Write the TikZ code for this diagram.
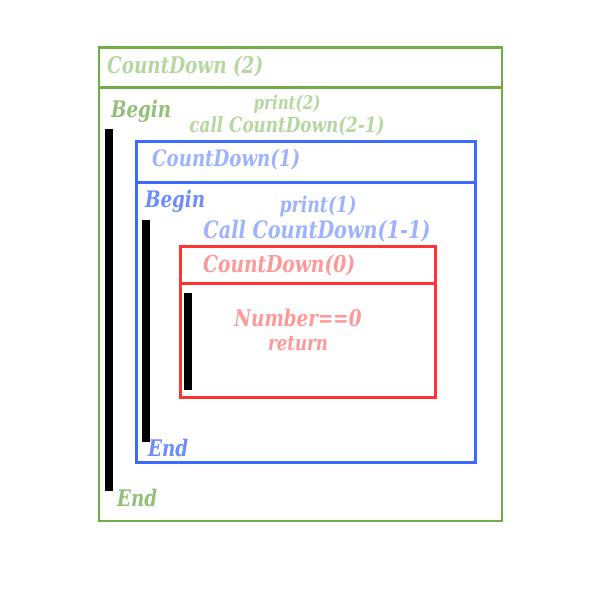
\documentclass[tikz,border=0pt]{standalone}
\usepackage{graphicx}
\usepackage{fontspec}
\setmainfont{DejaVu Serif}
\definecolor{gborder}{HTML}{70AD47}
\definecolor{gtext}{HTML}{B5D7A0}
\definecolor{gdark}{HTML}{92C07A}
\definecolor{bborder}{HTML}{3D6BFF}
\definecolor{btext}{HTML}{9DB3FF}
\definecolor{bdark}{HTML}{6D8DFF}
\definecolor{rborder}{HTML}{FF3333}
\definecolor{rtext}{HTML}{FF9999}
\newcommand{\fitw}[2]{\scalebox{1}[1.25]{\resizebox{#1pt}{!}{\bfseries\itshape #2}}}
\begin{document}
\begin{tikzpicture}[x=1pt,y=-1pt,
  lbl/.style={inner sep=0pt},
  bar/.style={fill=black, draw=none}]
\useasboundingbox (0,0) rectangle (600,600);
\fill[white] (0,0) rectangle (600,600);
% outer green frame
\draw[black, line width=1pt] (98.5,46.5) rectangle (501.5,520.5);
\draw[gborder, line width=2.5pt] (99,47.5) -- (502,47.5) -- (502,521) -- (99,521) -- cycle;
\draw[gborder, line width=2.5pt] (99,87.5) -- (502,87.5);
\node[lbl, text=gtext, anchor=west] (h2) at (107,67) {\fitw{156}{CountDown (2)}};
\node[lbl, text=gdark, anchor=west] (b2) at (111,111) {\fitw{60}{Begin}};
\node[lbl, text=gtext] (p2) at (287,104) {\fitw{67}{print(2)}};
\node[lbl, text=gtext] (c2) at (287,126) {\fitw{195}{call CountDown(2-1)}};
\fill[bar] (105,129) rectangle (113,491);
\node[lbl, text=gdark, anchor=west] (e2) at (117,498) {\fitw{40}{End}};
% blue frame
\draw[bborder, line width=3pt] (136,141.5) rectangle (475.5,462.5);
\draw[bborder, line width=3pt] (136,182) -- (475.5,182);
\node[lbl, text=btext, anchor=west] (h1) at (152,160) {\fitw{148}{CountDown(1)}};
\node[lbl, text=bdark, anchor=west] (b1) at (145,201) {\fitw{60}{Begin}};
\node[lbl, text=btext] (p1) at (318,207) {\fitw{77}{print(1)}};
\node[lbl, text=btext] (c1) at (317,231) {\fitw{227}{Call CountDown(1-1)}};
\fill[bar] (142,220) rectangle (150,442);
\node[lbl, text=bdark, anchor=west] (e1) at (148,448) {\fitw{40}{End}};
% red frame
\draw[rborder, line width=3pt] (180.5,246.5) rectangle (435.5,397.5);
\draw[rborder, line width=3pt] (180.5,283) -- (435.5,283);
\node[lbl, text=rtext, anchor=west] (h0) at (203,265) {\fitw{152}{CountDown(0)}};
\fill[bar] (184,293) rectangle (192,390);
\node[lbl, text=rtext] (n0) at (298,318) {\fitw{127}{Number==0}};
\node[lbl, text=rtext] (r0) at (298,344) {\fitw{60}{return}};
\end{tikzpicture}
\end{document}
